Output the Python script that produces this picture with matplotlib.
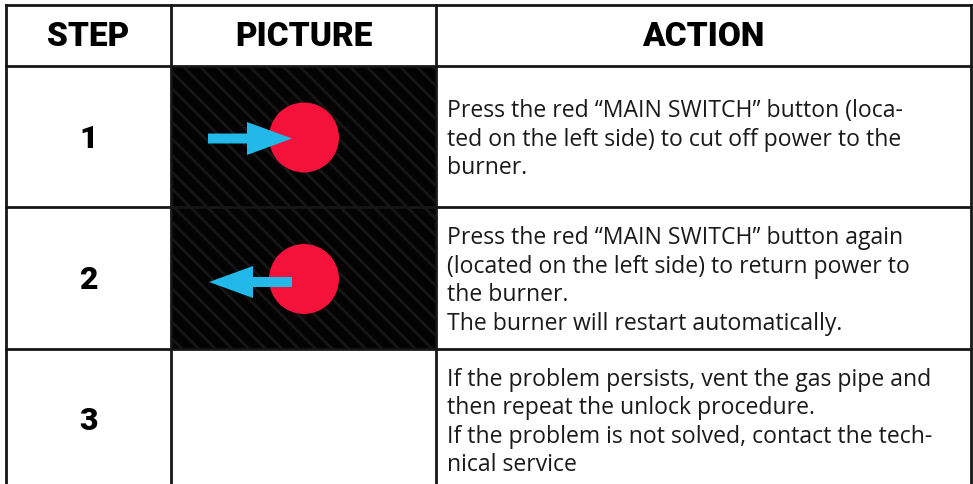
import matplotlib.pyplot as plt
from matplotlib.patches import Rectangle, Circle, FancyArrow

# table content
headers = ["STEP", "PICTURE", "ACTION"]
steps = ["1", "2", "3"]
has_picture = [True, True, False]
arrow_dir = ["right", "left", None]
actions = [
    ["Press the red \u201cMAIN SWITCH\u201d button (loca-",
     "ted on the left side) to cut off power to the",
     "burner."],
    ["Press the red \u201cMAIN SWITCH\u201d button again",
     "(located on the left side) to return power to",
     "the burner.",
     "The burner will restart automatically."],
    ["If the problem persists, vent the gas pipe and",
     "then repeat the unlock procedure.",
     "If the problem is not solved, contact the tech-",
     "nical service"],
]

# layout in pixels
W, H = 973, 484
col_x = [6, 171, 436, 971]
row_y = [5, 66, 207, 349, 490]
line_pitch = 28.5

plt.rcParams['hatch.linewidth'] = 2.0
plt.rcParams['hatch.color'] = '#161616'

fig = plt.figure(figsize=(W / 100, H / 100), dpi=100)
ax = fig.add_axes([0, 0, 1, 1])
ax.set_xlim(0, W)
ax.set_ylim(H, 0)
ax.axis('off')

head_font = dict(family='Roboto', fontweight='black', fontsize=24)
num_font = dict(family='Roboto', fontweight='black', fontsize=23)
body_font = dict(family='Open Sans', fontsize=16.6, color='#1a1a1a')

# header
for i, h in enumerate(headers):
    cx = (col_x[i] + col_x[i + 1]) / 2
    ax.text(cx, (row_y[0] + row_y[1]) / 2 + 1, h, ha='center', va='center',
            color='black', **head_font)

for r in range(len(steps)):
    y0, y1 = row_y[r + 1], row_y[r + 2]
    cy = (y0 + y1) / 2
    ax.text((col_x[0] + col_x[1]) / 2, cy + 2, steps[r], ha='center', va='center',
            color='black', **num_font)

    if has_picture[r]:
        ax.add_patch(Rectangle((col_x[1], y0), col_x[2] - col_x[1], y1 - y0,
                               facecolor='#030303', edgecolor='#161616',
                               hatch='\\\\', lw=0, zorder=1))
        ccx, ccy = 304, cy + 1
        ax.add_patch(Circle((ccx, ccy), 35, facecolor='#f5123a', edgecolor='none', zorder=2))
        if arrow_dir[r] == "right":
            ax.add_patch(FancyArrow(208, ccy + 1, 84, 0, width=10, head_width=33,
                                    head_length=45, length_includes_head=True,
                                    color='#22b8e9', lw=0, zorder=3))
        else:
            ax.add_patch(FancyArrow(292, ccy + 3, -83, 0, width=10, head_width=32,
                                    head_length=44, length_includes_head=True,
                                    color='#22b8e9', lw=0, zorder=3))

    lines = actions[r]
    start = cy + 3 - line_pitch * (len(lines) - 1) / 2
    for k, ln in enumerate(lines):
        ax.text(447, start + k * line_pitch, ln, ha='left', va='center', **body_font)

# grid lines
lc = '#161616'
for x in col_x:
    ax.plot([x, x], [row_y[0], H + 5], color=lc, lw=2.0, zorder=5, solid_capstyle='projecting')
for y in row_y[:-1]:
    ax.plot([col_x[0], col_x[-1]], [y, y], color=lc, lw=2.0, zorder=5, solid_capstyle='projecting')

fig.savefig('out.png', dpi=100, facecolor='white')
